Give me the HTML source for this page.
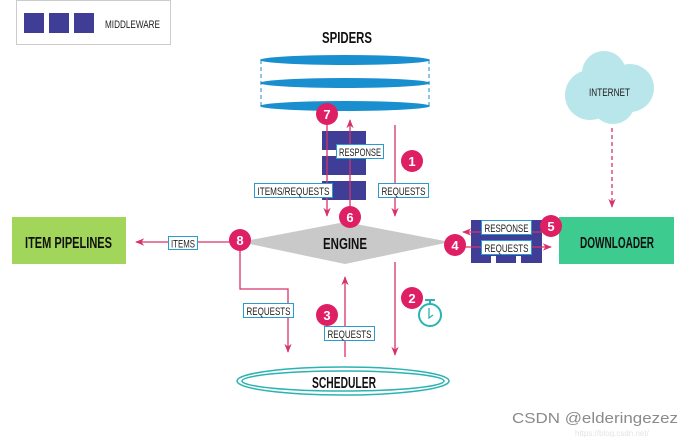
<!DOCTYPE html>
<html><head><meta charset="utf-8"><style>
html,body{margin:0;padding:0;background:#fff;}
svg{display:block;}
text{font-family:"Liberation Sans",sans-serif;}
.b{font-weight:bold;fill:#111;}
.l{font-size:11px;fill:#222;}
.n{font-weight:bold;font-size:13px;fill:#fff;}
</style></head><body>
<svg width="692" height="437" viewBox="0 0 692 437" xmlns="http://www.w3.org/2000/svg">
<defs>
<marker id="a" viewBox="0 0 10 10" refX="9" refY="5" markerWidth="7" markerHeight="7" orient="auto-start-reverse"><path d="M0,1 L10,5 L0,9 L3,5 z" fill="#d6336c"/></marker>
</defs>
<rect width="692" height="437" fill="#fff"/>
<rect x="16.5" y="0.5" width="154" height="44" fill="#fff" stroke="#ccc"/>
<rect x="24" y="13" width="20" height="20" fill="#3f3d96"/>
<rect x="49" y="13" width="20" height="20" fill="#3f3d96"/>
<rect x="74" y="13" width="20" height="20" fill="#3f3d96"/>
<text x="105" y="28" class="l" textLength="55" lengthAdjust="spacingAndGlyphs">MIDDLEWARE</text>

<text x="322" y="43" class="b" font-size="16" textLength="50" lengthAdjust="spacingAndGlyphs">SPIDERS</text>
<g stroke="#1a8fd0" stroke-dasharray="4,3">
<line x1="261" y1="60" x2="261" y2="106"/><line x1="429" y1="60" x2="429" y2="106"/>
</g>
<g fill="#1a8fd0">
<ellipse cx="345" cy="60" rx="85" ry="5"/>
<ellipse cx="345" cy="83" rx="85" ry="5"/>
<ellipse cx="345" cy="106" rx="85" ry="5"/>
</g>

<g fill="#3f3d96">
<rect x="322" y="131" width="44" height="19"/>
<rect x="322" y="156" width="44" height="19"/>
<rect x="322" y="181" width="44" height="19"/>
</g>
<g stroke="#d6336c" stroke-width="1.3" fill="none">
<line x1="327" y1="115" x2="327" y2="216" marker-end="url(#a)"/>
<line x1="350" y1="210" x2="350" y2="120" marker-end="url(#a)"/>
<line x1="395" y1="125" x2="395" y2="216" marker-end="url(#a)"/>
</g>
<rect x="336.5" y="144.5" width="47" height="14" fill="#fff" stroke="#2a9bd0"/>
<text x="339" y="156" class="l" textLength="42" lengthAdjust="spacingAndGlyphs">RESPONSE</text>
<rect x="254.5" y="183.5" width="78" height="14" fill="#fff" stroke="#2a9bd0"/>
<text x="257.5" y="195" class="l" textLength="72" lengthAdjust="spacingAndGlyphs">ITEMS/REQUESTS</text>
<rect x="378.5" y="183.5" width="50" height="14" fill="#fff" stroke="#2a9bd0"/>
<text x="381.5" y="195" class="l" textLength="44" lengthAdjust="spacingAndGlyphs">REQUESTS</text>

<polygon points="240,242 345,222 450,242 345,264" fill="#c9c9c9"/>
<text x="323" y="249" class="b" font-size="16" textLength="44" lengthAdjust="spacingAndGlyphs">ENGINE</text>

<rect x="12" y="217" width="114" height="47" fill="#a1d65b"/>
<text x="25" y="248" class="b" font-size="16" textLength="87" lengthAdjust="spacingAndGlyphs">ITEM PIPELINES</text>
<g stroke="#d6336c" stroke-width="1.3" fill="none">
<line x1="232" y1="242" x2="136" y2="242" marker-end="url(#a)"/>
<polyline points="240,250 240,289 288,289 288,352" marker-end="url(#a)"/>
<line x1="345" y1="357" x2="345" y2="277" marker-end="url(#a)"/>
<line x1="395" y1="262" x2="395" y2="355" marker-end="url(#a)"/>
<line x1="612" y1="128" x2="612" y2="207" stroke-dasharray="4,3" marker-end="url(#a)"/>
</g>
<rect x="168.5" y="236.5" width="29" height="13" fill="#fff" stroke="#2a9bd0"/>
<text x="171" y="247.5" class="l" textLength="24" lengthAdjust="spacingAndGlyphs">ITEMS</text>
<rect x="243.5" y="303.5" width="50" height="14" fill="#fff" stroke="#2a9bd0"/>
<text x="246.5" y="315" class="l" textLength="44" lengthAdjust="spacingAndGlyphs">REQUESTS</text>
<rect x="324.5" y="326.5" width="50" height="14" fill="#fff" stroke="#2a9bd0"/>
<text x="327.5" y="338" class="l" textLength="44" lengthAdjust="spacingAndGlyphs">REQUESTS</text>

<g stroke="#2bb3b3" stroke-width="2" fill="none">
<circle cx="430" cy="315" r="11"/>
<line x1="430" y1="301" x2="430" y2="304"/>
<line x1="425" y1="300" x2="435" y2="300"/>
<polyline points="429,308 429,318 433,315" stroke-width="1.3"/>
</g>

<ellipse cx="343" cy="381" rx="106" ry="14" fill="none" stroke="#2bb3b3" stroke-width="1.5"/>
<ellipse cx="343" cy="381" rx="101" ry="10" fill="#fff" stroke="#2bb3b3" stroke-width="1.5"/>
<text x="312" y="388" class="b" font-size="16" textLength="64" lengthAdjust="spacingAndGlyphs">SCHEDULER</text>

<rect x="559" y="217" width="115" height="47" fill="#3ecb8f"/>
<text x="580" y="248" class="b" font-size="16" textLength="74" lengthAdjust="spacingAndGlyphs">DOWNLOADER</text>
<g fill="#3f3d96">
<rect x="471" y="220" width="71" height="36"/>
<rect x="471" y="256" width="20" height="7"/>
<rect x="496" y="256" width="20" height="7"/>
<rect x="521" y="256" width="21" height="7"/>
</g>
<g stroke="#d6336c" stroke-width="1.3" fill="none">
<line x1="545" y1="232" x2="463" y2="232" marker-end="url(#a)"/>
<line x1="464" y1="247" x2="551" y2="247" marker-end="url(#a)"/>
</g>
<rect x="481.5" y="220.5" width="50" height="14" fill="#fff" stroke="#2a9bd0"/>
<text x="484.5" y="232" class="l" textLength="44" lengthAdjust="spacingAndGlyphs">RESPONSE</text>
<rect x="481.5" y="240.5" width="50" height="14" fill="#fff" stroke="#2a9bd0"/>
<text x="484.5" y="252" class="l" textLength="44" lengthAdjust="spacingAndGlyphs">REQUESTS</text>

<g fill="#b9e6ea">
<circle cx="590" cy="95" r="25"/>
<circle cx="604" cy="73" r="22"/>
<circle cx="630" cy="88" r="24"/>
<circle cx="613" cy="102" r="22"/>
</g>
<text x="589" y="96" font-size="11" fill="#222" textLength="41" lengthAdjust="spacingAndGlyphs">INTERNET</text>

<g fill="#de1f63">
<circle cx="327" cy="114" r="11"/>
<circle cx="412" cy="161" r="11"/>
<circle cx="350" cy="217" r="11"/>
<circle cx="240" cy="240" r="11"/>
<circle cx="455" cy="245" r="11"/>
<circle cx="551" cy="226" r="11"/>
<circle cx="327" cy="315" r="11"/>
<circle cx="412" cy="298" r="11"/>
</g>
<g text-anchor="middle">
<text x="327" y="119" class="n">7</text>
<text x="412" y="166" class="n">1</text>
<text x="350" y="222" class="n">6</text>
<text x="240" y="245" class="n">8</text>
<text x="455" y="250" class="n">4</text>
<text x="551" y="231" class="n">5</text>
<text x="327" y="320" class="n">3</text>
<text x="412" y="303" class="n">2</text>
</g>

<text x="512" y="423" font-size="15" fill="#8a8a8a" textLength="166" lengthAdjust="spacingAndGlyphs">CSDN @elderingezez</text>
<text x="575" y="436" font-size="8" fill="#e4e4e4">https://blog.csdn.net/</text>
</svg>
</body></html>
